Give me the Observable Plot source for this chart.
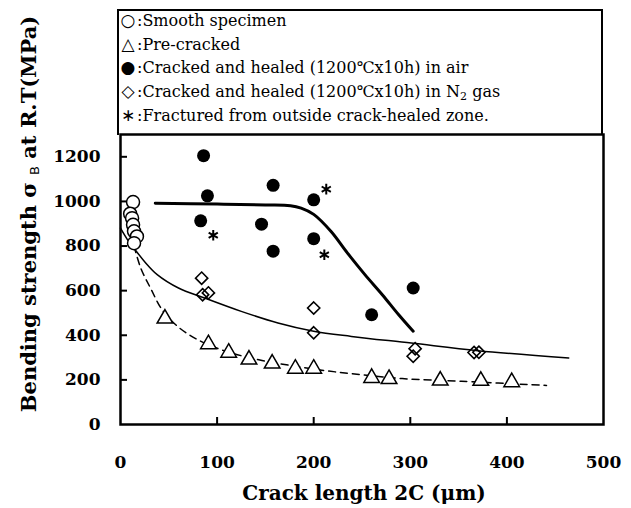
<!DOCTYPE html>
<html><head><meta charset="utf-8">
<script src="https://cdn.jsdelivr.net/npm/d3@7"></script>
<script src="https://cdn.jsdelivr.net/npm/@observablehq/plot@0.6"></script>
<style>
body{margin:0;background:#fff;}
#wrap{position:relative;width:631px;height:508px;}
#legendBox{position:absolute;left:117px;top:9px;width:486px;height:126px;box-sizing:border-box;border:2px solid #000;border-bottom:none;}
.row{position:absolute;left:119px;height:24px;line-height:24px;white-space:nowrap;font-family:"DejaVu Serif",serif;font-size:16px;color:#000;}
.sym{display:inline-block;width:18px;text-align:center;font-family:"DejaVu Sans",sans-serif;font-size:17px;}
svg text{fill:#000;}
</style></head>
<body><div id="wrap"></div>
<script>
// ---- data ----
const smoothX = [13, 10, 12, 13, 14, 17, 14];
const smoothY = [997, 945, 925, 895, 866, 843, 813];

const preX = [46, 91, 112, 133, 157, 181, 200, 260, 278, 331, 373, 405];
const preY = [475, 360, 322, 291, 273, 250, 250, 209, 204, 197, 196, 190];

const airX = [86, 90, 83, 158, 146, 158, 200, 200, 260, 303];
const airY = [1205, 1025, 913, 1072, 898, 777, 1007, 833, 492, 612];

const n2X = [84, 85, 91, 200, 200, 305, 303, 366, 371];
const n2Y = [656, 582, 590, 522, 411, 340, 306, 323, 324];

const fracX = [96, 213, 211];
const fracY = [848, 1055, 761];

const airFitX = [36, 100, 150, 176, 187, 200, 218, 235, 253, 271, 288, 303];
const airFitY = [992, 988, 984, 981, 970, 942, 865, 768, 672, 582, 492, 418];

const n2FitX = [0, 7, 14, 25, 38, 60, 87, 125, 163, 200, 239, 301, 370, 464];
const n2FitY = [880, 830, 790, 730, 672, 612, 567, 507, 455, 418, 395, 365, 331, 298];

const preFitX = [14, 21, 31, 43, 59, 80, 107, 142, 177, 211, 239, 291, 353, 441];
const preFitY = [800, 701, 612, 515, 440, 380, 331, 291, 264, 242, 228, 206, 194, 175];

const xTicks = [0, 100, 200, 300, 400, 500];
const yTicks = [0, 200, 400, 600, 800, 1000, 1200];

const legendSymbols = ["○", "△", "●", "◇", "∗"];
const legendLabels = [
  "Smooth specimen",
  "Pre-cracked",
  "Cracked and healed (1200℃x10h) in air",
  "Cracked and healed (1200℃x10h) in N<sub style=\"font-size:11px;vertical-align:-3px\">2</sub> gas",
  "Fractured from outside crack-healed zone."
];
const xTitle = "Crack length 2C (μm)";

// ---- build tables ----
const zip = (xs, ys) => xs.map((x, i) => ({x, y: ys[i]}));
const smooth = zip(smoothX, smoothY), pre = zip(preX, preY), air = zip(airX, airY),
      n2 = zip(n2X, n2Y), frac = zip(fracX, fracY),
      airFit = zip(airFitX, airFitY), n2Fit = zip(n2FitX, n2FitY), preFit = zip(preFitX, preFitY);

const W = 631, H = 508, mL = 120, mR = 28, mT = 134, mB = 84;
const pw = W - mL - mR, ph = H - mT - mB;

const chart = Plot.plot({
  width: W, height: H,
  marginLeft: mL, marginRight: mR, marginTop: mT, marginBottom: mB,
  style: {fontFamily: "DejaVu Serif, serif", fontSize: "17px", fontWeight: "bold", background: "#fff", overflow: "visible"},
  x: {domain: [0, 500]},
  y: {domain: [0, 1300]},
  marks: [
    Plot.line(preFit, {x: "x", y: "y", curve: "catmull-rom", stroke: "#000", strokeWidth: 1.5, strokeDasharray: "7,5"}),
    Plot.line(n2Fit, {x: "x", y: "y", curve: "catmull-rom", stroke: "#000", strokeWidth: 1.5}),
    Plot.line(airFit, {x: "x", y: "y", curve: "catmull-rom", stroke: "#000", strokeWidth: 3}),
    Plot.dot(pre, {x: "x", y: "y", symbol: "triangle", r: 5.8, fill: "#fff", stroke: "#000", strokeWidth: 1.5}),
    Plot.dot(n2, {x: "x", y: "y", symbol: "diamond2", r: 5.5, fill: "none", stroke: "#000", strokeWidth: 1.6}),
    Plot.dot(air, {x: "x", y: "y", symbol: "circle", r: 6.5, fill: "#000", stroke: "none"}),
    Plot.dot(frac, {x: "x", y: "y", symbol: "asterisk", r: 5, stroke: "#000", strokeWidth: 2}),
    Plot.dot(smooth, {x: "x", y: "y", symbol: "circle", r: 6.5, fill: "#fff", stroke: "#000", strokeWidth: 1.5}),
    Plot.tickY(yTicks.filter(d => d > 0), {y: d => d, stroke: "#000", strokeWidth: 2, insetRight: pw - 7}),
    Plot.tickX(xTicks.filter(d => d > 0 && d < 500), {x: d => d, stroke: "#000", strokeWidth: 2, insetTop: ph - 7}),
    Plot.frame({stroke: "#000", strokeWidth: 2.5}),
    Plot.axisY({ticks: yTicks, tickSize: 0, tickPadding: 20, tickFormat: d => String(d), label: null}),
    Plot.axisX({ticks: xTicks, tickSize: 0, tickPadding: 31, tickFormat: d => String(d), label: null})
  ]
});

const wrap = document.getElementById("wrap");
wrap.appendChild(chart);

// axis titles as real text
const svg = d3.select(chart);
svg.append("text")
  .attr("x", 364).attr("y", 494)
  .attr("text-anchor", "middle").attr("dominant-baseline", "middle")
  .style("font-family", "DejaVu Serif, serif").style("font-size", "20px").style("font-weight", "bold")
  .text(xTitle);

const yt = svg.append("text")
  .attr("transform", "translate(30,214) rotate(-90)")
  .attr("text-anchor", "middle").attr("dominant-baseline", "middle")
  .style("font-family", "DejaVu Serif, serif").style("font-size", "21px").style("font-weight", "bold");
yt.append("tspan").text("Bending strength σ ");
yt.append("tspan").attr("dy", "5").style("font-size", "13px").style("font-weight", "normal").style("font-family","DejaVu Sans, sans-serif").text("B");
yt.append("tspan").attr("dy", "-5").text(" at R.T(MPa)");

// legend box
const box = document.createElement("div");
box.id = "legendBox";
wrap.appendChild(box);
const centers = [20, 44, 67, 91, 115];
legendSymbols.forEach((s, i) => {
  const row = document.createElement("div");
  row.className = "row";
  row.style.top = (centers[i] - 12) + "px";
  row.innerHTML = `<span class="sym">${s}</span>:${legendLabels[i]}`;
  wrap.appendChild(row);
});
</script>
</body></html>
